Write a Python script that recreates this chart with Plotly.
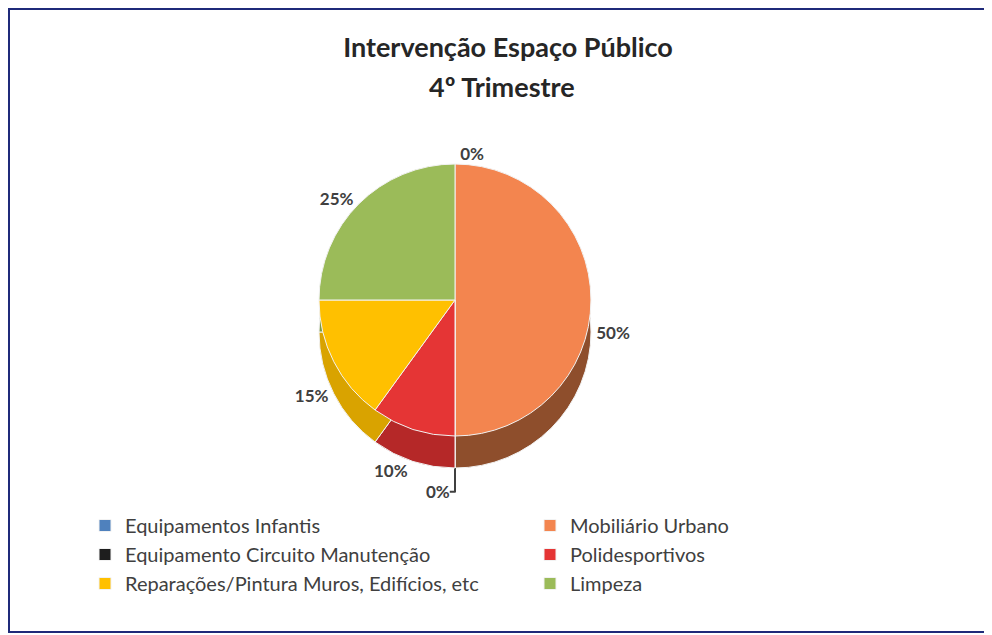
import plotly.graph_objects as go

categories = [
    "Equipamentos Infantis",
    "Mobiliário Urbano",
    "Equipamento Circuito Manutenção",
    "Polidesportivos",
    "Reparações/Pintura Muros, Edifícios, etc",
    "Limpeza",
]
values = [0, 50, 0, 10, 15, 25]
top_colors = ["#4F81BD", "#F3854F", "#1E1E1E", "#E53535", "#FFC000", "#9BBB59"]
side_colors = ["#F2F2F2", "#8E4E2C", "#F2F2F2", "#B52828", "#D9A300", "#7E9A45"]
# which labels are drawn on the top surface vs. on the side (lower rim)
top_text_pos = ["outside", "none", "none", "none", "none", "outside"]
side_text_pos = ["none", "outside", "outside", "outside", "outside", "none"]

title_line1 = "Intervenção Espaço Público"
title_line2 = "4º Trimestre"

W, H = 992, 635
OFF = 8  # page body margin: page pixel = figure pixel + 8
FONT = "Lato"


def px(x):
    return (x - OFF) / W


def py(y):
    return 1 - (y - OFF) / H


# pie geometry (page pixels)
cx, cy, d, depth = 455, 300, 272, 32


def dom(cx_, cy_, d_):
    return dict(
        x=[px(cx_ - d_ / 2), px(cx_ + d_ / 2)],
        y=[py(cy_ + d_ / 2), py(cy_ - d_ / 2)],
    )


label_font = dict(family=FONT, size=17, color="#404040", weight="bold")

fig = go.Figure()

# side (depth) of the pie
fig.add_trace(go.Pie(
    labels=categories, values=values, sort=False, direction="clockwise",
    rotation=0, domain=dom(cx, cy + depth, d),
    marker=dict(colors=side_colors, line=dict(color="#F2F2F2", width=1)),
    textinfo="percent", texttemplate="%{percent:.0%}",
    textposition=side_text_pos, outsidetextfont=label_font,
    showlegend=False, hoverinfo="skip",
))

# top surface
fig.add_trace(go.Pie(
    labels=categories, values=values, sort=False, direction="clockwise",
    rotation=0, domain=dom(cx, cy, d),
    marker=dict(colors=top_colors, line=dict(color="#F2F2F2", width=1)),
    textinfo="percent", texttemplate="%{percent:.0%}",
    textposition=top_text_pos, outsidetextfont=label_font,
    showlegend=True,
))

fig.update_layout(
    width=W, height=H,
    margin=dict(l=0, r=0, t=0, b=0),
    paper_bgcolor="white",
    plot_bgcolor="white",
    title=dict(
        text=title_line1, x=px(508), xanchor="center",
        y=py(48), yanchor="middle", yref="container",
        font=dict(family=FONT, size=27, color="#262626", weight="bold"),
    ),
    annotations=[dict(
        text=title_line2, xref="paper", yref="paper",
        x=px(502), y=py(86), xanchor="center", yanchor="middle",
        showarrow=False,
        font=dict(family=FONT, size=27, color="#262626", weight="bold"),
    )],
    legend=dict(
        orientation="h", x=px(85), xanchor="left", y=py(506), yanchor="top",
        entrywidth=400, entrywidthmode="pixels",
        font=dict(family=FONT, size=20, color="#404040"),
        traceorder="normal",
        bgcolor="rgba(0,0,0,0)",
    ),
    shapes=[dict(
        type="rect", xref="paper", yref="paper",
        x0=px(9), x1=1.02, y0=py(632), y1=py(9),
        line=dict(color="#1F2A7A", width=2),
    )],
)

fig.write_html("out.html")
